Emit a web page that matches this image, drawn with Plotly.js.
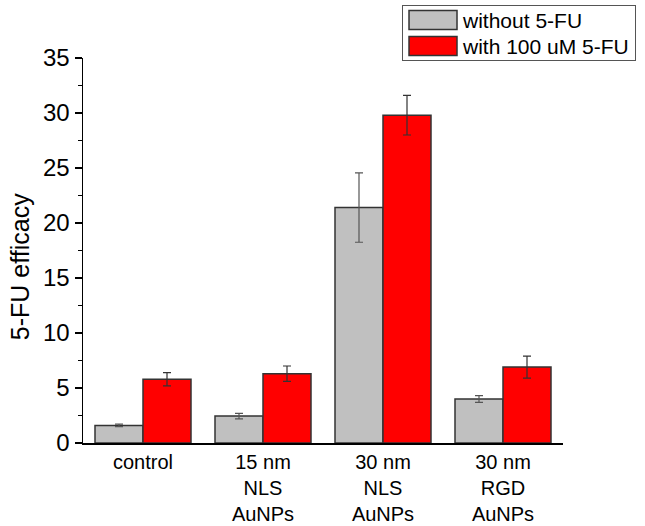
<!DOCTYPE html>
<html>
<head>
<meta charset="utf-8">
<script src="https://cdn.plot.ly/plotly-3.0.1.min.js"></script>
<style>html,body{margin:0;padding:0;background:#fff}#chart{width:645px;height:526px}</style>
</head>
<body>
<div id="chart"></div>
<script>
const categories = ["control", "15 nm<br>NLS<br>AuNPs", "30 nm<br>NLS<br>AuNPs", "30 nm<br>RGD<br>AuNPs"];
const withoutValues = [1.6, 2.45, 21.4, 4.0];
const withoutErrors = [0.12, 0.25, 3.15, 0.3];
const withValues = [5.8, 6.3, 29.8, 6.9];
const withErrors = [0.6, 0.7, 1.8, 1.0];
const seriesNames = ["without 5-FU", "with 100 uM 5-FU"];
const yTitle = "5-FU efficacy";
const categoryIndex = categories.map(function (_, i) { return i; });

const font = "Liberation Sans, Arial, sans-serif";

const traces = [
  {
    type: "bar", x: categories, y: withoutValues, name: seriesNames[0],
    marker: {color: "#c0c0c0", line: {color: "#333333", width: 1.5}},
    error_y: {type: "data", array: withoutErrors, visible: true, color: "#555555", thickness: 1.2, width: 4}
  },
  {
    type: "bar", x: categories, y: withValues, name: seriesNames[1],
    marker: {color: "#ff0000", line: {color: "#333333", width: 1.5}},
    error_y: {type: "data", array: withErrors, visible: true, color: "#333333", thickness: 1.2, width: 4}
  }
];

const layout = {
  width: 645, height: 526,
  margin: {l: 83, r: 82, t: 58, b: 83, autoexpand: false},
  paper_bgcolor: "#fff", plot_bgcolor: "#fff",
  font: {family: font, color: "#000"},
  barmode: "group", bargap: 0.2, bargroupgap: 0,
  showlegend: true,
  legend: {
    x: 0.6646, y: 1.1377, xanchor: "left", yanchor: "top",
    bordercolor: "#555", borderwidth: 1, bgcolor: "#fff",
    font: {family: font, size: 21, color: "#000"},
    itemwidth: 50, tracegroupgap: 0
  },
  xaxis: {
    type: "category", range: [-0.5, 3.5],
    showline: true, linecolor: "#000", linewidth: 1.5,
    ticks: "",
    tickfont: {family: font, size: 20, color: "#000"},
    showgrid: false, zeroline: false
  },
  xaxis2: {
    overlaying: "x", anchor: "y", side: "bottom",
    range: [-0.5, 3.5], tickmode: "array", tickvals: categoryIndex,
    showticklabels: false, showline: false,
    ticks: "outside", ticklen: 8, tickcolor: "#000", tickwidth: 1.2,
    showgrid: false, zeroline: false
  },
  yaxis: {
    range: [0, 35], dtick: 5, tick0: 0,
    showline: true, linecolor: "#000", linewidth: 1.5,
    ticks: "outside", ticklen: 7, tickcolor: "#000", tickwidth: 1.2,
    minor: {dtick: 2.5, ticks: "outside", ticklen: 4, tickcolor: "#000", tickwidth: 1},
    tickfont: {family: font, size: 24, color: "#000"},
    showgrid: false, zeroline: false
  },
  annotations: [{
    text: yTitle, xref: "paper", yref: "paper", x: -0.131, y: 0.457,
    xanchor: "center", yanchor: "middle", textangle: -90, showarrow: false,
    font: {family: font, size: 25, color: "#000"}
  }]
};

function setTranslateY(el, y) {
  const t = el.getAttribute("transform") || "";
  const m = t.match(/translate\(\s*([-\d.e]+)[ ,]+([-\d.e]+)\s*\)/);
  const x = m ? parseFloat(m[1]) : 0;
  el.setAttribute("transform", "translate(" + x + "," + y + ")");
}

Plotly.newPlot("chart", traces, layout, {displayModeBar: false, staticPlot: true}).then(function (gd) {
  const leg = gd.querySelector(".legend");
  if (!leg) return;
  // widen the legend swatches to match the reference's long rectangles
  leg.querySelectorAll(".traces .legendpoints path").forEach(function (p) {
    p.setAttribute("d", "M24,9.5H-24V-9.5H24Z");
    p.style.strokeWidth = "1.5px";
  });
  // tighten the rows like the reference legend
  const rows = leg.querySelectorAll(".traces");
  rows.forEach(function (r, i) { setTranslateY(r, 15 + i * 26); });
  const bg = leg.querySelector("rect.bg");
  if (bg) bg.setAttribute("height", 55);
});
</script>
</body>
</html>
